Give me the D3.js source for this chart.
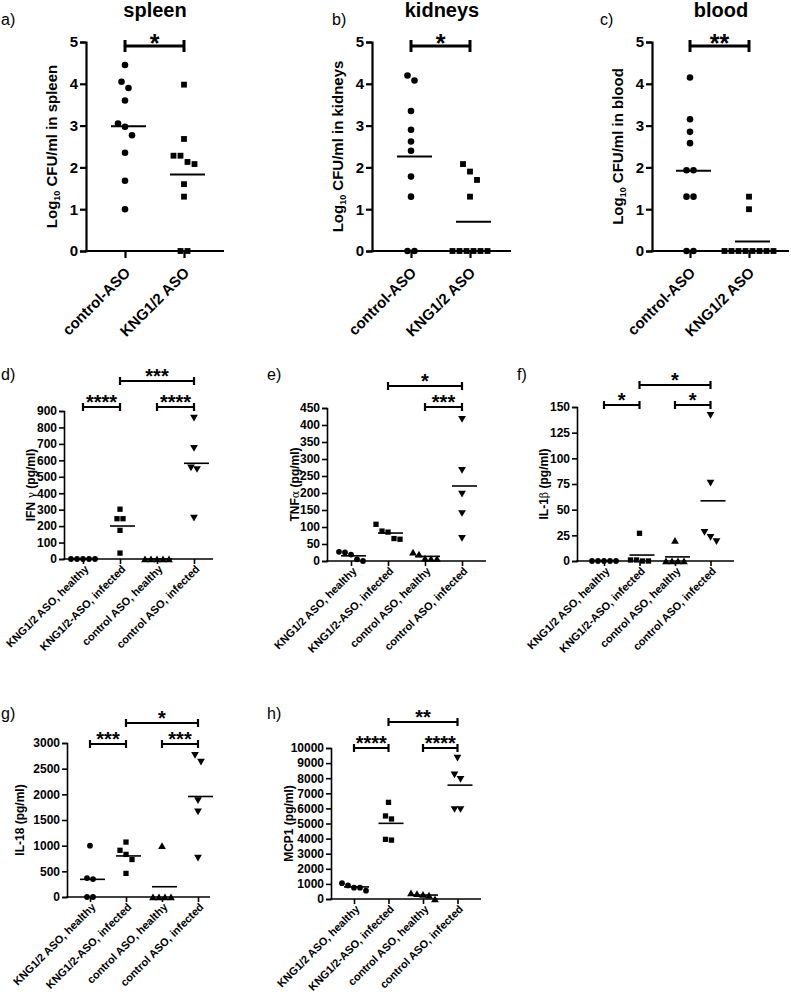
<!DOCTYPE html>
<html><head><meta charset="utf-8">
<script src="https://cdn.jsdelivr.net/npm/d3@7"></script>
<style>body{margin:0;background:#fff} svg{display:block} text{font-family:"Liberation Sans",Arial,sans-serif;fill:#000}</style>
</head><body><svg id="c" width="791" height="999"></svg>
<script>
// ---------- data ----------
const topCats = ["control-ASO", "KNG1/2 ASO"];
const topTicks = [0, 1, 2, 3, 4, 5];
const spleenControl = [4.45, 4.05, 3.9, 3.6, 3.05, 2.97, 2.77, 2.35, 1.68, 1.0];
const spleenKNG = [3.98, 2.68, 2.28, 2.28, 2.13, 2.08, 1.6, 1.3, 0, 0];
const kidneysControl = [4.2, 4.08, 3.35, 2.9, 2.62, 2.4, 1.78, 1.3, 0, 0];
const kidneysKNG = [2.08, 1.9, 1.7, 1.3, 0, 0, 0, 0, 0, 0];
const bloodControl = [4.15, 3.15, 2.85, 2.58, 1.93, 1.93, 1.3, 1.3, 0, 0];
const bloodKNG = [1.3, 1.0, 0, 0, 0, 0, 0, 0, 0, 0];

const cytoCats = ["KNG1/2 ASO, healthy", "KNG1/2-ASO, infected", "control ASO, healthy", "control ASO, infected"];
const ifng = [[0, 0, 0, 0, 0], [303, 245, 245, 174, 36], [0, 0, 0, 0, 0], [863, 680, 561, 551, 255]];
const tnfa = [[27, 25, 19, 5, 0], [108, 88, 85, 66, 64], [26, 20, 8, 7, 7], [420, 270, 200, 143, 70]];
const il1b = [[0, 0, 0, 0, 0], [27, 1, 1, 0, 0], [20, 0, 0, 0, 0], [143, 77, 29, 24, 20]];
const il18 = [[1000, 370, 350, 0, 0], [1070, 910, 830, 730, 460], [1000, 0, 0, 0, 0], [2780, 2650, 1900, 1680, 780]];
const mcp1 = [[1050, 900, 750, 750, 550], [6400, 5500, 5300, 3950, 3900], [400, 350, 300, 250, 0], [9400, 8300, 8000, 6000, 6000]];

const ifngTicks = [0, 100, 200, 300, 400, 500, 600, 700, 800, 900];
const tnfaTicks = [0, 50, 100, 150, 200, 250, 300, 350, 400, 450];
const il1bTicks = [0, 25, 50, 75, 100, 125, 150];
const il18Ticks = [0, 500, 1000, 1500, 2000, 2500, 3000];
const mcp1Ticks = [0, 1000, 2000, 3000, 4000, 5000, 6000, 7000, 8000, 9000, 10000];

// significance: [from, to, label, level(0 low,1 high)]
const sigSpleen = [[0, 1, "*", 0]];
const sigKidneys = [[0, 1, "*", 0]];
const sigBlood = [[0, 1, "**", 0]];
const sigIfng = [[0, 1, "****", 0], [2, 3, "****", 0], [1, 3, "***", 1]];
const sigTnfa = [[2, 3, "***", 0], [1, 3, "*", 1]];
const sigIl1b = [[0, 1, "*", 0], [2, 3, "*", 0], [1, 3, "*", 1]];
const sigIl18 = [[0, 1, "***", 0], [2, 3, "***", 0], [1, 3, "*", 1]];
const sigMcp1 = [[0, 1, "****", 0], [2, 3, "****", 0], [1, 3, "**", 1]];

// ---------- drawing ----------
const svg = d3.select("#c");
const FONT = '"Liberation Sans",Arial,sans-serif';

function spread(vals, y, s, thr) {
  const pts = vals.map(v => ({v, y: y(v)})).sort((a, b) => a.y - b.y);
  const groups = []; let cur = [];
  pts.forEach(p => {
    if (cur.length && p.y - cur[cur.length - 1].y > thr) { groups.push(cur); cur = []; }
    cur.push(p);
  });
  if (cur.length) groups.push(cur);
  groups.forEach(g => g.forEach((p, k) => p.dx = (k - (g.length - 1) / 2) * s));
  return pts;
}

const symTypes = [d3.symbolCircle, d3.symbolSquare, d3.symbolTriangle, d3.symbolTriangle];
const symRot = [0, 0, 0, 180];

function panel(cfg) {
  const g = svg.append("g");
  const y = d3.scaleLinear().domain([0, cfg.ticks[cfg.ticks.length - 1]]).range([cfg.y0, cfg.yTop]);
  const x = d3.scalePoint().domain(cfg.cats).range([cfg.c0, cfg.c0 + cfg.step * (cfg.cats.length - 1)]);
  const big = cfg.big;
  const sw = big ? 2.2 : 1.6;

  // y axis
  const ya = g.append("g").attr("transform", `translate(${cfg.x0},0)`)
    .call(d3.axisLeft(y).tickValues(cfg.ticks).tickFormat(d3.format("d")).tickSizeOuter(0).tickSize(big ? 6 : 5).tickPadding(2));
  ya.select(".domain").attr("stroke-width", sw).attr("stroke", "#000");
  ya.selectAll(".tick line").attr("stroke-width", sw).attr("stroke", "#000");
  ya.selectAll(".tick text").attr("font-family", FONT).attr("font-weight", "bold")
    .attr("font-size", big ? 15 : 12).attr("fill", "#000");

  // x axis
  g.append("line").attr("x1", cfg.x0 - sw / 2).attr("x2", cfg.xEnd).attr("y1", cfg.y0).attr("y2", cfg.y0)
    .attr("stroke", "#000").attr("stroke-width", sw);
  const xa = g.append("g").attr("transform", `translate(0,${cfg.y0})`)
    .call(d3.axisBottom(x).tickSizeOuter(0).tickSize(big ? 7 : 5));
  xa.select(".domain").remove();
  xa.selectAll(".tick line").attr("stroke-width", sw).attr("stroke", "#000");
  xa.selectAll(".tick text").attr("font-family", FONT).attr("font-weight", "bold")
    .attr("font-size", big ? 15 : 11).attr("fill", "#000")
    .attr("text-anchor", "end").attr("x", 0).attr("y", 0).attr("dy", "0.35em")
    .attr("transform", big ? "translate(2,19) rotate(-45)" : "translate(3,8) rotate(-45)");

  // y title
  const yt = g.append("text").attr("font-family", FONT).attr("font-weight", "bold")
    .attr("font-size", big ? 15 : 12).attr("text-anchor", "middle").attr("dy", "0.35em")
    .attr("transform", `translate(${cfg.x0 - cfg.titleOff},${(cfg.y0 + cfg.yTop) / 2}) rotate(-90)`);
  cfg.ytitle(yt);

  // points
  const s = big ? 7 : 6;
  cfg.data.forEach((vals, i) => {
    const cx = x(cfg.cats[i]);
    const pts = spread(vals, y, s, s + 1.5);
    const sym = d3.symbol().type(symTypes[i]).size(i >= 2 ? (big ? 40 : 26) : (i === 0 ? (big ? 34 : 26) : (big ? 34 : 28)));
    g.selectAll(null).data(pts).join("path")
      .attr("d", sym)
      .attr("fill", "#000")
      .attr("transform", p => `translate(${cx + p.dx},${p.y + (symRot[i] ? 0 : (i >= 2 ? 1 : 0))}) rotate(${symRot[i]})`);
    const m = d3.mean(vals);
    g.append("line").attr("x1", cx - cfg.ml).attr("x2", cx + cfg.mr)
      .attr("y1", y(m)).attr("y2", y(m)).attr("stroke", "#000").attr("stroke-width", big ? 2 : 1.6);
  });

  // significance bars
  cfg.sig.forEach(([a, b, lab, lev]) => {
    const by = lev ? cfg.barHi : cfg.barLo;
    const xa_ = x(cfg.cats[a]), xb = x(cfg.cats[b]);
    const bw = big ? 3 : 2.2, th = big ? 6 : 4;
    g.append("line").attr("x1", xa_).attr("x2", xb).attr("y1", by).attr("y2", by).attr("stroke", "#000").attr("stroke-width", bw);
    [xa_, xb].forEach(xx => g.append("line").attr("x1", xx).attr("x2", xx).attr("y1", by - th).attr("y2", by + th)
      .attr("stroke", "#000").attr("stroke-width", bw));
    g.append("text").attr("x", (xa_ + xb) / 2).attr("y", by + (big ? 6 : 1.5)).attr("text-anchor", "middle")
      .attr("font-family", FONT).attr("font-weight", "bold").attr("font-size", big ? 25 : 20).text(lab);
  });

  // panel letter & title
  g.append("text").attr("x", cfg.lx).attr("y", cfg.ly).attr("font-family", FONT).attr("font-size", 16).text(cfg.letter);
  if (cfg.title) g.append("text").attr("x", cfg.tx).attr("y", 17).attr("text-anchor", "middle")
    .attr("font-family", FONT).attr("font-weight", "bold").attr("font-size", 20).text(cfg.title);
}

function logTitle(organ) {
  return t => {
    t.append("tspan").text("Log");
    t.append("tspan").attr("font-size", 9).attr("dy", "0.35em").text("10");
    t.append("tspan").attr("dy", "-0.23em").text(" CFU/ml in " + organ);
  };
}
function cytoTitle(pre, greek, post) {
  return t => {
    t.append("tspan").text(pre);
    if (greek) t.append("tspan").attr("font-weight", "normal").attr("font-family", '"DejaVu Serif",serif').attr("font-size", 11).text(greek);
    t.append("tspan").text(post);
  };
}

const topBase = {big: true, cats: topCats, ticks: topTicks, yTop: 42, y0: 251, step: 59, ml: 14, mr: 21, titleOff: 34, barLo: 46, ly: 25};
panel(Object.assign({}, topBase, {x0: 86, c0: 125, xEnd: 224, data: [spleenControl, spleenKNG], sig: sigSpleen,
  ytitle: logTitle("spleen"), letter: "a)", lx: 1, title: "spleen", tx: 155}));
panel(Object.assign({}, topBase, {x0: 372, c0: 411, xEnd: 511, data: [kidneysControl, kidneysKNG], sig: sigKidneys,
  ytitle: logTitle("kidneys"), letter: "b)", lx: 332, title: "kidneys", tx: 442}));
panel(Object.assign({}, topBase, {x0: 652, c0: 690, xEnd: 789, data: [bloodControl, bloodKNG], sig: sigBlood,
  ytitle: logTitle("blood"), letter: "c)", lx: 600, title: "blood", tx: 721}));

const botBase = {big: false, cats: cytoCats, ml: 10, mr: 15};
panel(Object.assign({}, botBase, {x0: 64, yTop: 411, y0: 559, c0: 83, step: 37, xEnd: 213, data: ifng, ticks: ifngTicks,
  sig: sigIfng, barLo: 407, barHi: 381, titleOff: 33, ytitle: cytoTitle("IFN ", "γ", " (pg/ml)"), letter: "d)", lx: 1, ly: 380}));
panel(Object.assign({}, botBase, {x0: 327, yTop: 408, y0: 561, c0: 351, step: 37, xEnd: 486, data: tnfa, ticks: tnfaTicks,
  sig: sigTnfa, barLo: 407, barHi: 386, titleOff: 32, ytitle: cytoTitle("TNF", "α", " (pg/ml)"), letter: "e)", lx: 267, ly: 380}));
panel(Object.assign({}, botBase, {x0: 577, yTop: 407, y0: 561, c0: 604, step: 35.5, xEnd: 734, data: il1b, ticks: il1bTicks,
  sig: sigIl1b, barLo: 405, barHi: 385, titleOff: 33, ytitle: cytoTitle("IL-1", "β", " (pg/ml)"), letter: "f)", lx: 517, ly: 380}));
panel(Object.assign({}, botBase, {x0: 67, yTop: 743, y0: 897, c0: 90, step: 36, xEnd: 210, data: il18, ticks: il18Ticks,
  sig: sigIl18, barLo: 744, barHi: 723, titleOff: 47, ytitle: cytoTitle("IL-18 (pg/ml)", null, ""), letter: "g)", lx: 1, ly: 719}));
panel(Object.assign({}, botBase, {x0: 331, yTop: 748, y0: 899, c0: 354, step: 34.5, xEnd: 481, data: mcp1, ticks: mcp1Ticks,
  sig: sigMcp1, barLo: 748, barHi: 722, titleOff: 42, ytitle: cytoTitle("MCP1 (pg/ml)", null, ""), letter: "h)", lx: 267, ly: 719}));
</script></body></html>
